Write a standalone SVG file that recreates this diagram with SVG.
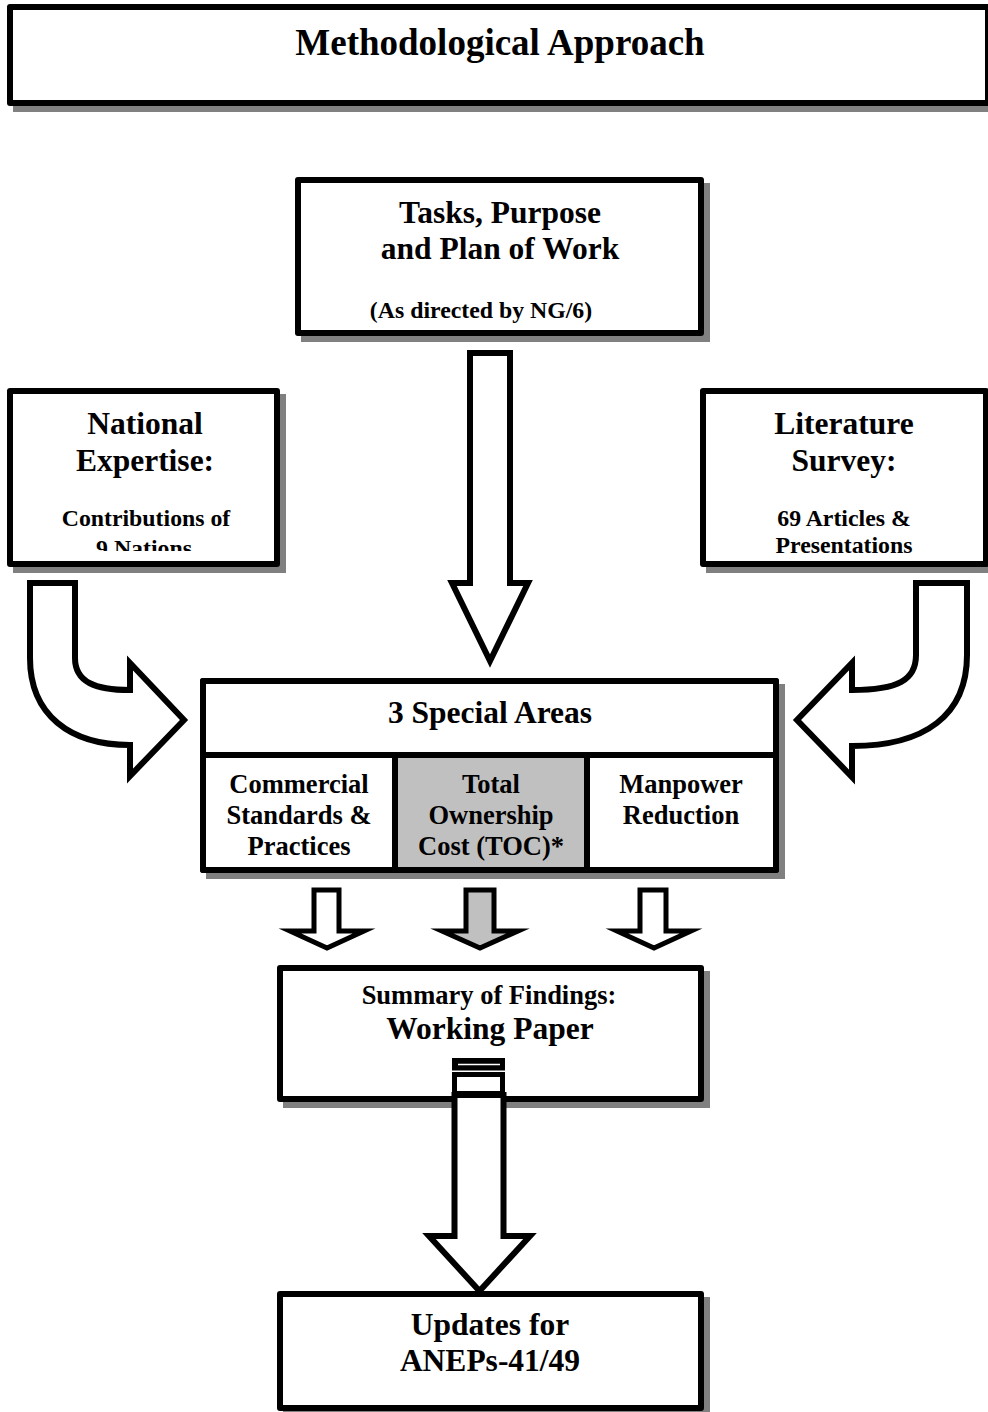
<svg xmlns="http://www.w3.org/2000/svg" width="988" height="1412" viewBox="0 0 988 1412">
  <defs>
    <style>
      .box { fill: #ffffff; stroke: #000000; stroke-width: 6; stroke-linejoin: round; }
      .shadow { fill: #808080; stroke: none; }
      .line { stroke: #000000; stroke-width: 6; fill: none; }
      .arrow { fill: #ffffff; stroke: #000000; stroke-width: 6; stroke-linejoin: miter; stroke-miterlimit: 10; }
      .small { fill: #ffffff; stroke: #000000; stroke-width: 5; stroke-linejoin: miter; stroke-miterlimit: 10; }
      .grey { fill: #c0c0c0; }
      text { font-family: "Liberation Serif", "Times New Roman", serif; font-weight: bold; fill: #000000; text-anchor: middle; }
      .t37 { font-size: 37px; }
      .t31 { font-size: 31.5px; }
      .t26 { font-size: 26.5px; }
      .t24 { font-size: 23.8px; }
    </style>
    <clipPath id="clip-national">
      <rect x="0" y="380" width="300" height="171"/>
    </clipPath>
  </defs>

  <rect width="988" height="1412" fill="#ffffff"/>

  <!-- Title banner -->
  <g id="title">
    <rect class="shadow" x="13" y="10" width="984" height="102"/>
    <rect class="box" x="10" y="7" width="978" height="96"/>
    <text class="t37" x="500" y="55">Methodological Approach</text>
  </g>

  <!-- Tasks, purpose and plan of work -->
  <g id="tasks">
    <rect class="shadow" x="301" y="183" width="409" height="159"/>
    <rect class="box" x="298" y="180" width="403" height="153"/>
    <text class="t31" x="500" y="223">Tasks, Purpose</text>
    <text class="t31" x="500" y="259">and Plan of Work</text>
    <text class="t24" x="481" y="318">(As directed by NG/6)</text>
  </g>

  <!-- National expertise -->
  <g id="national">
    <rect class="shadow" x="13" y="394" width="273" height="179"/>
    <rect class="box" x="10" y="391" width="267" height="173"/>
    <text class="t31" x="145" y="434">National</text>
    <text class="t31" x="145" y="471">Expertise:</text>
    <g clip-path="url(#clip-national)">
      <text class="t24" x="146" y="526">Contributions of</text>
      <text class="t24" x="144" y="556">9 Nations</text>
    </g>
  </g>

  <!-- Literature survey -->
  <g id="literature">
    <rect class="shadow" x="706" y="394" width="289" height="179"/>
    <rect class="box" x="703" y="391" width="283" height="173"/>
    <text class="t31" x="844" y="434">Literature</text>
    <text class="t31" x="844" y="471">Survey:</text>
    <text class="t24" x="844" y="526">69 Articles &amp;</text>
    <text class="t24" x="844" y="553">Presentations</text>
  </g>

  <!-- Three special areas -->
  <g id="special-areas">
    <rect class="shadow" x="206" y="684" width="579" height="195"/>
    <rect class="box" x="203" y="681" width="573" height="189"/>
    <rect class="grey" x="395" y="755" width="192" height="115"/>
    <line class="line" x1="203" y1="755" x2="776" y2="755"/>
    <line class="line" x1="395" y1="755" x2="395" y2="870"/>
    <line class="line" x1="587" y1="755" x2="587" y2="870"/>
    <rect x="203" y="681" width="573" height="189" fill="none" stroke="#000000" stroke-width="6" stroke-linejoin="round"/>
    <text class="t31" x="490" y="723">3 Special Areas</text>
    <text class="t26" x="299" y="793">Commercial</text>
    <text class="t26" x="299" y="824">Standards &amp;</text>
    <text class="t26" x="299" y="855">Practices</text>
    <text class="t26" x="491" y="793">Total</text>
    <text class="t26" x="491" y="824">Ownership</text>
    <text class="t26" x="491" y="855">Cost (TOC)*</text>
    <text class="t26" x="681" y="793">Manpower</text>
    <text class="t26" x="681" y="824">Reduction</text>
  </g>

  <!-- Summary of findings -->
  <g id="summary">
    <rect class="shadow" x="283" y="971" width="427" height="137"/>
    <rect class="box" x="280" y="968" width="421" height="131"/>
    <text class="t26" x="489" y="1004">Summary of Findings:</text>
    <text class="t31" x="490" y="1039">Working Paper</text>
  </g>

  <!-- Updates for ANEPs -->
  <g id="updates">
    <rect class="shadow" x="283" y="1297" width="427" height="120"/>
    <rect class="box" x="280" y="1294" width="421" height="114"/>
    <text class="t31" x="490" y="1335">Updates for</text>
    <text class="t31" x="490" y="1371">ANEPs-41/49</text>
  </g>

  <!-- Block arrows -->
  <g id="connectors">
    <!-- straight down from tasks -->
    <path class="arrow" d="M470 353 L510 353 L510 583 L528 583 L490 661 L452 583 L470 583 Z"/>
    <!-- curved arrow from national expertise -->
    <path class="arrow" d="M30 583 L75 583 L75 658 C75 682 95 690 130 690 L130 663 L184 720 L130 776 L130 745 C70 745 30 715 30 658 Z"/>
    <!-- curved arrow from literature survey -->
    <path class="arrow" d="M967 583 L916 583 L916 655 C916 680 898 690 852 690 L852 663 L797 720 L852 777 L852 746 C925 746 967 715 967 655 Z"/>
    <!-- three arrows out of the special areas -->
    <path class="small" d="M314 890 L339 890 L339 931 L364 931 L327 948 L290 931 L314 931 Z"/>
    <path class="small grey" d="M466 890 L494 890 L494 931 L518 931 L480 948 L442 931 L466 931 Z"/>
    <path class="small" d="M640 890 L666 890 L666 931 L691 931 L654 948 L617 931 L640 931 Z"/>
    <!-- arrow from working paper down to updates -->
    <path class="arrow" d="M454.5 1095 L503.5 1095 L503.5 1236 L530 1236 L479.5 1291 L429 1236 L454.5 1236 Z" stroke-width="5.5"/>
    <!-- document tab at the tail -->
    <rect x="452" y="1058" width="53" height="12.5" fill="#000000"/>
    <line x1="458" y1="1064.5" x2="500" y2="1064.5" stroke="#ffffff" stroke-width="1.5"/>
    <rect x="454.5" y="1074.5" width="48" height="19" fill="#ffffff" stroke="#000000" stroke-width="5"/>
  </g>
</svg>
